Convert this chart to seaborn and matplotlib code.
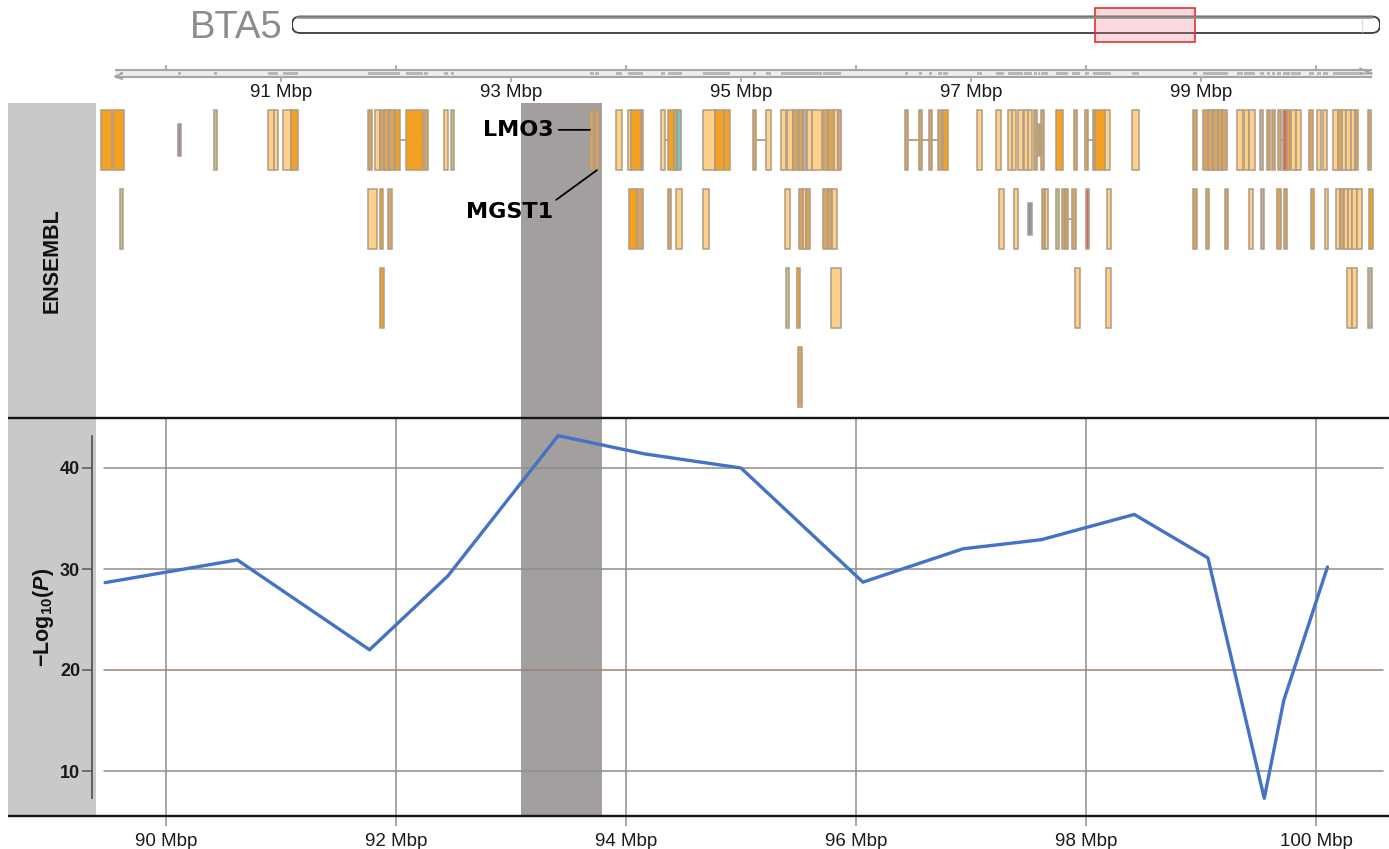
import matplotlib
matplotlib.use("Agg")
import matplotlib.pyplot as plt
import seaborn as sns
from matplotlib.patches import FancyBboxPatch, Rectangle

sns.set_theme(style="white")
plt.rcParams["font.family"] = ["Liberation Sans", "DejaVu Sans"]
plt.rcParams["mathtext.fontset"] = "custom"
plt.rcParams["mathtext.rm"] = "Liberation Sans"
plt.rcParams["mathtext.bf"] = "Liberation Sans:bold"
plt.rcParams["mathtext.bfit"] = "Liberation Sans:bold:italic"

# ---------------------------------------------------------------- data
chrom_name = "BTA5"
chrom_length = 121.19          # Mbp
highlight = (93.09, 93.79)     # candidate region, Mbp

# association signal along the window
snp_pos = [89.47, 90.62, 91.77, 92.45, 93.41, 94.16, 95.00, 96.06,
           96.93, 97.61, 98.42, 99.06, 99.55, 99.72, 100.10]
snp_logp = [28.65, 30.9, 22.0, 29.3, 43.2, 41.4, 40.0, 28.7,
            32.0, 32.9, 35.4, 31.1, 7.3, 17.0, 30.2]

# Ensembl gene models, one list set per display row
# kind: D protein coding (dark), L protein coding (light), T processed,
#       G lincRNA, B snRNA, C miRNA, R pseudogene, S misc, Y other, d short exon
row0_start = [89.435, 89.539, 90.104, 90.417, 90.887, 90.939, 91.017, 91.087,
              91.757, 91.817, 91.861, 91.896, 91.939, 91.991, 92.087, 92.243,
              92.417, 92.478, 93.687, 93.730, 93.913, 94.017, 94.043, 94.130,
              94.304, 94.365, 94.417, 94.443, 94.670, 94.774, 94.852, 95.104,
              95.217, 95.348, 95.400, 95.452, 95.504, 95.539, 95.574, 95.617,
              95.713, 95.757, 95.809, 95.843, 96.426, 96.548, 96.635, 96.713,
              96.757, 97.052, 97.217, 97.322, 97.357, 97.409, 97.461, 97.496,
              97.548, 97.583, 97.609, 97.739, 97.896, 97.991, 98.061, 98.078,
              98.165, 98.400, 98.930, 99.017, 99.061, 99.104, 99.148, 99.183,
              99.313, 99.374, 99.417, 99.513, 99.574, 99.617, 99.670, 99.713,
              99.748, 99.783, 99.826, 99.939, 100.009, 100.061, 100.148, 100.191,
              100.226, 100.261, 100.304, 100.339, 100.452]
row0_end = [89.530, 89.635, 90.130, 90.443, 90.939, 90.974, 91.087, 91.148,
            91.791, 91.861, 91.896, 91.939, 91.991, 92.035, 92.235, 92.278,
            92.452, 92.504, 93.722, 93.765, 93.965, 94.043, 94.130, 94.148,
            94.339, 94.417, 94.443, 94.478, 94.774, 94.852, 94.904, 95.130,
            95.261, 95.391, 95.452, 95.496, 95.539, 95.574, 95.617, 95.704,
            95.757, 95.809, 95.843, 95.870, 96.452, 96.574, 96.661, 96.748,
            96.800, 97.096, 97.261, 97.357, 97.391, 97.452, 97.496, 97.530,
            97.574, 97.600, 97.635, 97.800, 97.922, 98.017, 98.078, 98.165,
            98.209, 98.461, 98.965, 99.061, 99.104, 99.148, 99.183, 99.226,
            99.365, 99.417, 99.470, 99.539, 99.600, 99.643, 99.696, 99.748,
            99.774, 99.826, 99.870, 99.974, 100.043, 100.096, 100.191, 100.226,
            100.261, 100.304, 100.339, 100.365, 100.478]
row0_kind = list("DDBGLLLD" "TLTTTDDT" "LGTTLLDT" "LDTCLDDT"
                 "LLLTTYLL" "TTLSTTTT" "DLLLLLLL" "TdTDTTTD"
                 "LLTTTTTT" "LLLYTTTR" "DLLTLLLT" "LLLTT")

row1_start = [89.600, 91.757, 91.861, 91.930, 94.030, 94.096, 94.362, 94.435,
              94.670, 95.383, 95.504, 95.539, 95.565, 95.713, 95.757, 95.791,
              97.243, 97.374, 97.496, 97.617, 97.643, 97.739, 97.791, 97.817,
              97.878, 98.000, 98.183, 98.930, 99.043, 99.209, 99.417, 99.522,
              99.661, 99.722, 99.957, 100.078, 100.174, 100.209, 100.243, 100.278,
              100.313, 100.357, 100.461]
row1_end = [89.626, 91.835, 91.887, 91.965, 94.096, 94.148, 94.391, 94.487,
            94.722, 95.426, 95.539, 95.565, 95.600, 95.757, 95.791, 95.835,
            97.287, 97.409, 97.530, 97.643, 97.670, 97.765, 97.817, 97.843,
            97.913, 98.026, 98.217, 98.965, 99.070, 99.235, 99.452, 99.548,
            99.696, 99.748, 99.983, 100.104, 100.209, 100.243, 100.278, 100.313,
            100.357, 100.400, 100.496]
row1_kind = list("GLDTDTTL" "LLTLTTTL" "LLBTLGTT" "TRLTTTLY" "TTDLLTLL" "LLD")

row2_start = [91.861, 95.391, 95.483, 95.783, 97.904, 98.174, 100.270, 100.313, 100.452]
row2_end = [91.896, 95.417, 95.513, 95.870, 97.948, 98.217, 100.313, 100.357, 100.487]
row2_kind = list("DGDLLLLLY")

row3_start = [95.496]
row3_end = [95.530]
row3_kind = ["T"]

# intron connectors (start, end, row)
link_start = [91.900, 94.339, 95.130, 96.452, 97.574, 98.017, 99.696, 97.843]
link_end = [92.250, 94.365, 95.217, 96.757, 97.609, 98.061, 99.713, 97.878]
link_row = [0, 0, 0, 0, 0, 0, 0, 1]

label_names = ["LMO3", "MGST1"]
label_genes = [93.687, 93.730]   # start of the labelled gene models (row 0)

# ---------------------------------------------------------------- layout
W, H = 1389, 849
PX_PER_MBP = 115.0
X90_PX = 166.0
TRACK_L, TRACK_R = 96, 1389


def px2mbp(px):
    return 90 + (px - X90_PX) / PX_PER_MBP


view = (px2mbp(TRACK_L), px2mbp(TRACK_R))


def rect(x0, y0, x1, y1):
    return [x0 / W, 1 - y1 / H, (x1 - x0) / W, (y1 - y0) / H]


COLORS = {"D": "#f4a022", "L": "#fdd08b", "T": "#d7a461", "G": "#b3c98f",
          "B": "#8592b9", "C": "#72c8ca", "R": "#d9675c", "S": "#e59f80",
          "Y": "#b8b1a9", "d": "#eea542"}
SHORT = {"B", "d"}
EDGE = "#b09c84"
BAND = "#a29f9e"
GRID = "#8e8e8e"

fig = plt.figure(figsize=(W / 100, H / 100), dpi=100)
fig.patch.set_facecolor("white")

# background strips
ax_under = fig.add_axes([0, 0, 1, 1], zorder=0)
ax_under.set_xlim(0, W)
ax_under.set_ylim(H, 0)
ax_under.axis("off")
ax_under.add_patch(Rectangle((8, 103), TRACK_L - 8, 816 - 103,
                             facecolor="#c9c9c9", lw=0))

# ---------------------------------------------------------------- ideogram
ax_ideo = fig.add_axes(rect(292, 4, 1380, 45), zorder=3)
ax_ideo.set_xlim(0, chrom_length)
ax_ideo.set_ylim(45, 4)
ax_ideo.axis("off")
xpp = chrom_length / (1380 - 292)
ax_ideo.add_patch(FancyBboxPatch((0, 16.5), chrom_length, 16.5,
                                 boxstyle=f"round,pad=0,rounding_size={8.2 * xpp}",
                                 mutation_aspect=1 / xpp,
                                 facecolor="white", edgecolor="#3c3c3c", lw=1.3))
ax_ideo.plot([0.6, chrom_length - 0.9], [16.6, 16.6], color="#8a8a8a", lw=1.8)
ax_ideo.vlines(chrom_length - 2.0, 17.5, 32, color="#dddddd", lw=1.0)
ax_ideo.add_patch(Rectangle((view[0], 8), view[1] - view[0], 33.5,
                            facecolor=(0.93, 0.45, 0.5, 0.26),
                            edgecolor="#e2332d", lw=1.2))

# ---------------------------------------------------------------- ruler
r0, r1 = px2mbp(115), px2mbp(1372)
all_start = row0_start + row1_start + row2_start + row3_start
all_end = row0_end + row1_end + row2_end + row3_end
mark_start = [s for s in all_start if r0 < s < r1 - 0.1]
mark_width = [e - s for s, e in zip(all_start, all_end) if r0 < s < r1 - 0.1]

ax_r = fig.add_axes(rect(TRACK_L, 55, TRACK_R, 102), zorder=3)
ax_r.set_xlim(view)
ax_r.set_ylim(102, 55)
ax_r.axis("off")
ax_r.fill_between([r0, r1], 70.5, 76.5, color="#ededed", lw=0)
ax_r.bar(mark_start, height=3.0, width=mark_width,
         bottom=72.0, align="edge", color="#b8b8b8", lw=0)
ax_r.hlines([70.4, 76.6], r0, r1, color="#a5a5a5", lw=1.5)
ah = 12 / PX_PER_MBP
ax_r.plot([r1 - ah, r1, r1 - ah], [68.5, 73.5, 73.5], color="#a5a5a5", lw=1.4)
ax_r.plot([r0 + ah * 0.6, r0, r0 + ah * 0.6], [73.5, 76.5, 79.0], color="#a5a5a5", lw=1.4)
for m in range(90, 101):
    if m % 2 == 0:
        ax_r.vlines(m, 65, 70.4, color="#a5a5a5", lw=1.2)
    else:
        ax_r.vlines(m, 76.6, 81.5, color="#a5a5a5", lw=1.2)
        ax_r.text(m, 92.5, f"{m} Mbp", ha="center", va="center",
                  fontsize=13.5, color="#1a1a1a")

# ---------------------------------------------------------------- genes
ROW_PX = 79.0
ax_g = fig.add_axes(rect(TRACK_L, 103, TRACK_R, 418), zorder=2)
ax_g.set_facecolor("none")
ax_g.set_xlim(view)
ax_g.set_ylim((418 - 103) / ROW_PX, 0)
ax_g.axis("off")
ax_g.axvspan(*highlight, color=BAND, lw=0, zorder=0)

rows = [(row0_start, row0_end, row0_kind), (row1_start, row1_end, row1_kind),
        (row2_start, row2_end, row2_kind), (row3_start, row3_end, row3_kind)]
ax_g.hlines([r + 0.47 for r in link_row], link_start, link_end,
            color=EDGE, lw=1.3, zorder=1)
for r, (st, en, kd) in enumerate(rows):
    tops = [r + (0.27 if k in SHORT else 0.09) for k in kd]
    hts = [0.40 if k in SHORT else 0.76 for k in kd]
    ax_g.bar(st, height=hts, width=[e - s for s, e in zip(st, en)], bottom=tops,
             align="edge", color=[COLORS[k] for k in kd],
             edgecolor=EDGE, linewidth=1.1, zorder=2)

# gene name call-outs
lm_start = label_genes[0]
mg_start = label_genes[1]
mg_end = row0_end[row0_start.index(mg_start)]
ax_g.annotate(label_names[0], xy=(lm_start, 0.34), xytext=(-36, 0),
              textcoords="offset pixels", ha="right", va="center",
              fontsize=16, fontweight="bold", family="DejaVu Sans", color="black",
              arrowprops=dict(arrowstyle="-", color="black", lw=1.3,
                              shrinkA=1, shrinkB=0, relpos=(1, 0.5)), zorder=5)
ax_g.annotate(label_names[1], xy=((mg_start + mg_end) / 2, 0.85), xytext=(-44, -42),
              textcoords="offset pixels", ha="right", va="center",
              fontsize=16, fontweight="bold", family="DejaVu Sans", color="black",
              arrowprops=dict(arrowstyle="-", color="black", lw=1.3,
                              shrinkA=0, shrinkB=0, relpos=(1, 1)), zorder=5)

# ---------------------------------------------------------------- signal
Y10_PX, PX_PER_UNIT = 771.0, 10.1
ylims = (10 - (816 - Y10_PX) / PX_PER_UNIT, 10 + (Y10_PX - 418) / PX_PER_UNIT)

ax_p = fig.add_axes(rect(TRACK_L, 418, TRACK_R, 816), zorder=2)
ax_p.set_facecolor("none")
ax_p.set_xlim(view)
ax_p.set_ylim(ylims)
ax_p.axvspan(*highlight, color=BAND, lw=0, zorder=0)

xticks = list(range(90, 101, 2))
yticks = [10, 20, 30, 40]
for x in xticks:
    ax_p.axvline(x, color=GRID, lw=1.1, zorder=1)
gx0 = (104 - TRACK_L) / (TRACK_R - TRACK_L)
gx1 = (1383 - TRACK_L) / (TRACK_R - TRACK_L)
for y in yticks:
    ax_p.axhline(y, xmin=gx0, xmax=gx1, lw=1.1, zorder=1,
                 color="#9c7f74" if y == 20 else GRID)

sns.lineplot(x=snp_pos, y=snp_logp, ax=ax_p, color="#4472c4", lw=2.4,
             zorder=4, sort=False)

for s in ("top", "right", "bottom"):
    ax_p.spines[s].set_visible(False)
ax_p.spines["left"].set_position(("outward", 3))
ax_p.spines["left"].set_bounds(min(snp_logp), max(snp_logp))
ax_p.spines["left"].set_color("#555555")
ax_p.spines["left"].set_linewidth(1.3)

ax_p.set_yticks(yticks)
ax_p.set_yticklabels([str(v) for v in yticks], fontweight="bold")
ax_p.set_xticks(xticks)
ax_p.set_xticklabels([f"{v} Mbp" for v in xticks])
ax_p.tick_params(axis="y", left=True, length=7, width=1.1, color="#555555",
                 pad=1.5, labelsize=13, labelcolor="#1a1a1a")
ax_p.tick_params(axis="x", bottom=True, length=7, width=1.1, color=GRID,
                 pad=5, labelsize=13.5, labelcolor="#1a1a1a")
ax_p.set_xlabel("")
ax_p.set_ylabel(r"$\mathbf{-Log}_{\mathbf{10}}\mathbf{(}\mathbfit{P}\mathbf{)}$",
                fontsize=15.5, color="#111111")
ax_p.yaxis.set_label_coords((56 - TRACK_L) / (TRACK_R - TRACK_L), 0.5)

# ---------------------------------------------------------------- overlay
ax_over = fig.add_axes([0, 0, 1, 1], zorder=10)
ax_over.set_facecolor("none")
ax_over.set_xlim(0, W)
ax_over.set_ylim(H, 0)
ax_over.axis("off")
ax_over.hlines([418, 816], 8, W, color="#151515", lw=1.7)
ax_over.text(52, 261, "ENSEMBL", rotation=90, ha="center", va="center",
             fontsize=15.5, fontweight="bold", color="#111111")
ax_over.text(283, 28, chrom_name, ha="right", va="center",
             fontsize=27.5, color="#8c8c8c")

fig.savefig("out.png", dpi=100, facecolor="white")
